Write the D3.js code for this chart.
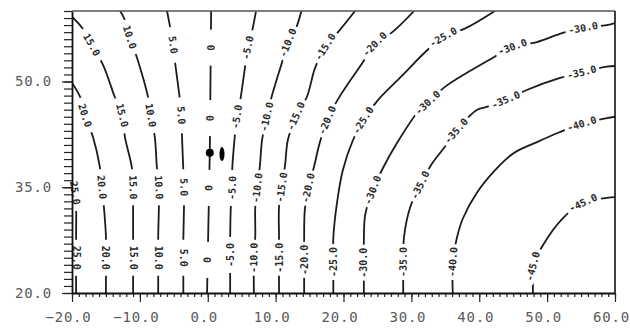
<!DOCTYPE html>
<html>
<head>
<meta charset="utf-8">
<script src="https://cdn.jsdelivr.net/npm/d3@7"></script>
<style>
  body { margin: 0; background: #fff; }
  .tick text { font-family: "DejaVu Sans Mono", monospace; font-size: 14px; fill: #5a5a5a; letter-spacing: 0.8px; }
  .clabel { font-family: "DejaVu Sans Mono", monospace; font-size: 10px; font-weight: bold; fill: #2a2a2a; }
</style>
</head>
<body>
<div id="chart"></div>
<script>
// contour levels, one polyline per level (data coords)
const levels = [25, 20, 15, 10, 5, 0, -5, -10, -15, -20, -25, -30, -35, -40, -45];

const contourPaths = [
  [[-20, 36.3], [-19.6, 34.5], [-19.4, 32.2], [-19.4, 28.0], [-19.4, 25.0], [-19.4, 20]],
  [[-20, 49.8], [-18.8, 47.8], [-18.1, 45.2], [-16.9, 42.1], [-15.9, 37.9], [-15.6, 35.0], [-15.3, 32.2], [-15.0, 28.0], [-15.0, 25.0], [-15.0, 20]],
  [[-20, 59.2], [-18.5, 57.6], [-17.1, 55.2], [-15.4, 52.3], [-13.7, 47.8], [-12.6, 45.2], [-12.2, 42.1], [-11.2, 37.9], [-11.0, 35.0], [-11.0, 32.2], [-11.0, 28.0], [-11.0, 25.0], [-11.0, 20]],
  [[-12.9, 60], [-12.2, 58.7], [-11.5, 56.3], [-10.4, 53.3], [-8.8, 47.8], [-8.4, 45.2], [-7.8, 42.1], [-7.5, 37.9], [-7.2, 35.0], [-7.2, 32.2], [-7.3, 28.0], [-7.3, 25.0], [-7.3, 20]],
  [[-6.0, 60], [-5.6, 58.0], [-5.1, 55.2], [-4.8, 52.6], [-4.1, 47.4], [-3.9, 45.2], [-3.8, 42.4], [-3.6, 37.4], [-3.5, 35.0], [-3.5, 32.2], [-3.6, 27.5], [-3.6, 25.0], [-3.6, 20]],
  [[0.5, 60], [0.4, 50], [0.3, 40], [0.1, 30], [-0.1, 20]],
  [[7.1, 59.9], [6.5, 57.0], [5.9, 54.8], [5.5, 52.1], [4.8, 47.4], [4.3, 45.0], [4.0, 42.4], [3.6, 37.4], [3.6, 34.9], [3.4, 32.2], [3.3, 27.5], [3.3, 25.4], [3.3, 20]],
  [[13.8, 60], [12.9, 57.3], [11.8, 55.5], [10.9, 52.6], [9.4, 47.8], [8.7, 45.0], [8.0, 41.7], [7.7, 38.2], [7.3, 34.9], [7.0, 32.2], [7.0, 28.0], [6.8, 25.0], [6.8, 20]],
  [[21.7, 60], [19.2, 57.0], [17.3, 54.9], [15.8, 51.9], [14.6, 47.8], [13.0, 45.1], [11.8, 41.7], [11.4, 38.2], [10.9, 35.0], [10.5, 32.2], [10.5, 28.0], [10.5, 25.0], [10.5, 20]],
  [[30.4, 60], [27.2, 57.0], [24.6, 55.3], [22.9, 52.8], [19.2, 47.5], [17.6, 44.5], [16.5, 41.3], [15.6, 37.7], [14.8, 34.9], [14.3, 31.8], [14.2, 27.5], [14.2, 24.7], [14.2, 20]],
  [[42.3, 60], [38.1, 57.6], [34.7, 56.3], [32.4, 54.5], [28.6, 50.8], [25.1, 47.4], [22.9, 44.5], [21.4, 41.7], [19.9, 37.4], [19.0, 32.5], [18.5, 27.8], [18.5, 24.4], [18.5, 20]],
  [[60, 58.3], [58.8, 58.0], [55.3, 57.6], [52.3, 56.9], [48.5, 55.6], [44.9, 54.9], [41.9, 53.3], [38.3, 51.3], [34.9, 49.2], [32.4, 47.0], [30.8, 45.5], [27.9, 41.3], [25.8, 37.7], [24.3, 34.6], [23.2, 31.1], [23.0, 27.5], [23.0, 24.3], [23.0, 20]],
  [[60, 52.2], [58.8, 52.1], [55.1, 51.3], [51.9, 50.5], [47.0, 48.8], [43.9, 47.4], [41.1, 46.4], [39.7, 46.0], [36.6, 43.0], [35.4, 41.3], [33.0, 38.3], [31.3, 35.3], [29.8, 32.1], [28.9, 27.8], [28.8, 24.4], [28.8, 20]],
  [[60, 45.0], [58.8, 44.8], [55.1, 44.0], [51.8, 42.8], [48.5, 41.4], [45.0, 39.8], [42.3, 37.4], [39.7, 34.3], [37.6, 30.6], [36.7, 27.8], [36.1, 24.4], [36.1, 20]],
  [[60, 33.6], [58.8, 33.5], [55.3, 32.8], [52.3, 30.6], [49.2, 26.5], [47.9, 23.8], [47.9, 21.8], [47.9, 20]]
];

// where each level is labelled
const labelPoints = [
  [[-19.55, 34.2], [-19.4, 25.0]],
  [[-18.1, 45.2], [-15.6, 35.0], [-15.0, 25.0]],
  [[-17.1, 55.2], [-12.6, 45.2], [-11.0, 35.0], [-11.0, 25.0]],
  [[-11.5, 56.3], [-8.4, 45.2], [-7.2, 35.0], [-7.3, 25.0]],
  [[-5.1, 55.2], [-3.9, 45.2], [-3.5, 35.0], [-3.6, 25.0]],
  [[0.5, 54.8], [0.35, 44.8], [0.15, 34.9], [-0.05, 24.7]],
  [[5.9, 54.8], [4.3, 45.0], [3.6, 34.9], [3.3, 25.4]],
  [[11.8, 55.5], [8.7, 45.0], [7.3, 34.9], [6.8, 25.0]],
  [[17.3, 54.9], [13.0, 45.1], [10.9, 35.0], [10.5, 25.0]],
  [[24.6, 55.3], [17.6, 44.5], [14.8, 34.9], [14.2, 24.7]],
  [[34.7, 56.3], [22.9, 44.5], [18.5, 24.4]],
  [[55.3, 57.6], [44.9, 54.9], [32.4, 47.0], [24.3, 34.6], [23.0, 24.3]],
  [[55.1, 51.3], [43.9, 47.4], [36.6, 43.0], [31.3, 35.3], [28.8, 24.4]],
  [[55.1, 44.0], [36.1, 24.4]],
  [[55.3, 32.8], [47.9, 23.8]]
];

const xTicks = [-20, -10, 0, 10, 20, 30, 40, 50, 60];
const yTicks = [20, 35, 50];

// the two marks near the origin
const sitePoint = [0.3, 39.9];
const siteMark = [2.1, 39.7];

const dims = { width: 630, height: 335 };
const gapLength = 36;

const x = d3.scaleLinear().domain([-20, 60]).range([72, 615]);
const y = d3.scaleLinear().domain([20, 60]).range([293, 11]);

const svg = d3.select('#chart')
  .append('svg')
  .attr('width', dims.width)
  .attr('height', dims.height)
  .style('background', '#fff');

svg.append('clipPath').attr('id', 'plot-clip')
  .append('rect')
  .attr('x', x(-20)).attr('y', y(60))
  .attr('width', x(60) - x(-20)).attr('height', y(20) - y(60));

const line = d3.line()
  .x(d => x(d[0]))
  .y(d => y(d[1]))
  .curve(d3.curveCatmullRom.alpha(0.5));

svg.append('g')
  .attr('clip-path', 'url(#plot-clip)')
  .selectAll('path')
  .data(contourPaths)
  .join('path')
    .attr('d', line)
    .attr('fill', 'none')
    .attr('stroke', '#1c1c1c')
    .attr('stroke-width', 1.8);

// labels sit in a white gap, turned along the line
const labelG = svg.append('g');
levels.forEach((lv, i) => {
  const pts = contourPaths[i].map(p => [x(p[0]), y(p[1])]);
  labelPoints[i].forEach(lp => {
    const px = x(lp[0]), py = y(lp[1]);
    const k = d3.minIndex(pts, p => (p[0] - px) ** 2 + (p[1] - py) ** 2);
    const a = pts[Math.max(k - 1, 0)];
    const b = pts[Math.min(k + 1, pts.length - 1)];
    let vx = b[0] - a[0], vy = b[1] - a[1];
    if ((lv > 0 && vy < 0) || (lv <= 0 && vy > 0)) { vx = -vx; vy = -vy; }
    const ang = Math.atan2(vy, vx) * 180 / Math.PI;
    const txt = lv === 0 ? '0' : lv.toFixed(1);
    const g = labelG.append('g').attr('transform', `translate(${px},${py}) rotate(${ang})`);
    g.append('rect')
      .attr('x', -gapLength / 2).attr('y', -5)
      .attr('width', gapLength).attr('height', 10)
      .attr('fill', '#fff');
    g.append('text')
      .attr('class', 'clabel')
      .attr('text-anchor', 'middle')
      .attr('dy', '0.35em')
      .text(txt);
  });
});

svg.append('circle')
  .attr('cx', x(sitePoint[0])).attr('cy', y(sitePoint[1]))
  .attr('r', 4).attr('fill', '#000');
svg.append('ellipse')
  .attr('cx', x(siteMark[0])).attr('cy', y(siteMark[1]))
  .attr('rx', 2.5).attr('ry', 7).attr('fill', '#000');

// axes
const xMinor = svg.append('g')
  .attr('transform', `translate(0, ${y(20)})`)
  .call(d3.axisBottom(x).tickValues(d3.range(-20, 61)).tickSize(4).tickFormat(''));
xMinor.select('.domain').remove();

const xAxisGroup = svg.append('g')
  .attr('transform', `translate(0, ${y(20)})`)
  .call(d3.axisBottom(x).tickValues(xTicks).tickSize(9).tickSizeOuter(0).tickPadding(10).tickFormat(d3.format('.1f')));
xAxisGroup.selectAll('.tick text').attr('dx', -4);

const yMinor = svg.append('g')
  .attr('transform', `translate(${x(-20)}, 0)`)
  .call(d3.axisLeft(y).tickValues(d3.range(20, 61)).tickSize(8).tickFormat(''));
yMinor.select('.domain').remove();

svg.append('g')
  .attr('transform', `translate(${x(-20)}, 0)`)
  .call(d3.axisLeft(y).tickValues(yTicks).tickSize(10).tickSizeOuter(0).tickPadding(10).tickFormat(d3.format('.1f')));

svg.selectAll('.domain').attr('stroke', '#111').attr('stroke-width', 1.8);
svg.selectAll('.tick line').attr('stroke', '#222').attr('stroke-width', 1.2);

// frame: top and right edges
svg.append('line')
  .attr('x1', x(-20)).attr('x2', x(60))
  .attr('y1', y(60)).attr('y2', y(60))
  .attr('stroke', '#555').attr('stroke-width', 1.3);
svg.append('line')
  .attr('x1', x(60)).attr('x2', x(60))
  .attr('y1', y(60)).attr('y2', y(20))
  .attr('stroke', '#111').attr('stroke-width', 1.6);
</script>
</body>
</html>
